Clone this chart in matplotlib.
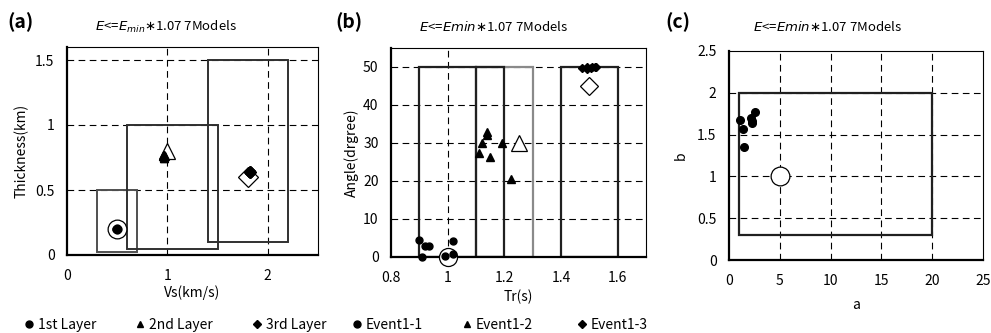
import matplotlib
matplotlib.use("Agg")
import matplotlib.pyplot as plt
from matplotlib.patches import Rectangle
from matplotlib.lines import Line2D

plt.rcParams['font.family'] = ['Noto Sans CJK JP', 'DejaVu Sans']
plt.rcParams['mathtext.fontset'] = 'dejavusans'

# ---------------- data ----------------
# (a) layer Vs / thickness
layer_names = ["1st Layer", "2nd Layer", "3rd Layer"]
vs_min = [0.3, 0.6, 1.4]
vs_max = [0.7, 1.5, 2.2]
th_min = [0.02, 0.05, 0.1]
th_max = [0.5, 1.0, 1.5]
l1_vs = [0.49, 0.50, 0.50, 0.51, 0.50, 0.50, 0.49]
l1_th = [0.20, 0.20, 0.21, 0.20, 0.19, 0.20, 0.20]
l2_vs = [0.96, 0.97, 0.97, 0.98, 0.96, 0.97, 0.97]
l2_th = [0.76, 0.75, 0.77, 0.76, 0.76, 0.75, 0.77]
l3_vs = [1.81, 1.82, 1.82, 1.83, 1.81, 1.82, 1.82]
l3_th = [0.64, 0.63, 0.65, 0.64, 0.64, 0.63, 0.65]
true_vs = [0.5, 1.0, 1.8]
true_th = [0.2, 0.8, 0.6]

# (b) event rise time / angle
event_names = ["Event1-1", "Event1-2", "Event1-3"]
tr_min = [0.9, 1.1, 1.4]
tr_max = [1.2, 1.3, 1.6]
ang_min = [0, 0, 0]
ang_max = [50, 50, 50]
ev1_tr = [0.90, 0.91, 0.92, 0.935, 0.99, 1.02, 1.02]
ev1_ang = [4.6, 0.1, 3.0, 3.0, 0.3, 4.1, 0.9]
ev2_tr = [1.11, 1.12, 1.14, 1.14, 1.15, 1.19, 1.225]
ev2_ang = [27.5, 30.0, 33.0, 32.0, 26.4, 30.0, 20.4]
ev3_tr = [1.475, 1.49, 1.49, 1.505, 1.51, 1.52, 1.525]
ev3_ang = [49.8, 49.5, 49.9, 49.8, 50.0, 49.9, 50.0]
true_tr = [1.0, 1.25, 1.5]
true_ang = [0, 30, 45]

# (c) a / b
a_min, a_max = 1, 20
b_min, b_max = 0.3, 2.0
a_vals = [1.07, 1.34, 1.5, 2.2, 2.25, 2.3, 2.57]
b_vals = [1.676, 1.57, 1.35, 1.70, 1.64, 1.66, 1.77]
true_a = [5]
true_b = [1.0]

# ---------------- figure ----------------
W, H = 991, 333
fig = plt.figure(figsize=(W / 100, H / 100), dpi=100)

def ax_at(l, t, r, b):
    return fig.add_axes([l / W, 1 - b / H, (r - l) / W, (b - t) / H])

axA = ax_at(67, 47, 318, 255)
axB = ax_at(391, 48, 646, 257)
axC = ax_at(729, 51, 983, 260)

FS = 10
grid_kw = dict(color='black', lw=0.8, ls=(0, (6, 4)), zorder=1)

def style(ax, xlim, ylim, xticks, yticks, xticklabels, yticklabels, xgrid, ygrid):
    ax.set_xlim(*xlim)
    ax.set_ylim(*ylim)
    ax.set_xticks(xticks)
    ax.set_yticks(yticks)
    ax.set_xticklabels(xticklabels)
    ax.set_yticklabels(yticklabels)
    ax.tick_params(axis='both', length=0, labelsize=FS)
    ax.tick_params(axis='x', pad=10)
    ax.tick_params(axis='y', pad=9)
    for g in xgrid:
        ax.plot([g, g], list(ylim), **grid_kw)
    for g in ygrid:
        ax.plot(list(xlim), [g, g], **grid_kw)
    for s in ['left', 'bottom']:
        ax.spines[s].set_linewidth(1.6)
    for s in ['top', 'right']:
        ax.spines[s].set_linewidth(0.8)
    ax.set_facecolor('white')

def place_labels(ax, xl, yl, xlab_frac, ylab_frac):
    ax.set_xlabel(xl, fontsize=FS)
    ax.set_ylabel(yl, fontsize=FS)
    ax.xaxis.set_label_coords(0.5, xlab_frac)
    ax.yaxis.set_label_coords(ylab_frac, 0.5)
    ax.xaxis.label.set_va('center')
    ax.yaxis.label.set_va('center')

# ---- (a)
style(axA, (0, 2.5), (0, 1.6), [0, 1, 2], [0, 0.5, 1, 1.5],
      ['0', '1', '2'], ['0', '0.5', '1', '1.5'], [1, 2], [0.5, 1, 1.5])
box_cols_a = ['#505050', '#303030', '#303030']
for i in range(3):
    axA.add_patch(Rectangle((vs_min[i], th_min[i]), vs_max[i] - vs_min[i],
                            th_max[i] - th_min[i], fill=False,
                            ec=box_cols_a[i], lw=1.4, zorder=2))
axA.plot(true_vs[0], true_th[0], 'o', ms=13.5, mfc='white', mec='black', mew=0.9, zorder=3)
axA.plot(true_vs[1], true_th[1], '^', ms=11, mfc='white', mec='black', mew=0.9, zorder=3)
axA.plot(true_vs[2], true_th[2], 'D', ms=10.5, mfc='white', mec='black', mew=0.9, zorder=3)
axA.plot(l1_vs, l1_th, 'o', ms=5, color='black', ls='none', zorder=4)
axA.plot(l2_vs, l2_th, '^', ms=6, color='black', ls='none', zorder=4)
axA.plot(l3_vs, l3_th, 'D', ms=5, color='black', ls='none', zorder=4)
place_labels(axA, 'Vs(km/s)', 'Thickness(km)', (255 - 293) / 208, (22 - 67) / 251)

# ---- (b)
style(axB, (0.8, 1.7), (0, 55), [0.8, 1.0, 1.2, 1.4, 1.6], [0, 10, 20, 30, 40, 50],
      ['0.8', '1', '1.2', '1.4', '1.6'], ['0', '10', '20', '30', '40', '50'],
      [1.0], [10, 20, 30, 40, 50])
box_cols_b = ['#202020', '#8a8a8a', '#202020']
order_b = [1, 0, 2]
for i in order_b:
    axB.add_patch(Rectangle((tr_min[i], ang_min[i]), tr_max[i] - tr_min[i],
                            ang_max[i] - ang_min[i], fill=False,
                            ec=box_cols_b[i], lw=1.6, zorder=2))
axB.plot([tr_min[1], tr_min[1]], [ang_min[1], ang_max[1]], color='#202020', lw=1.6, zorder=2)
axB.plot(true_tr[0], true_ang[0], 'o', ms=13, mfc='white', mec='black', mew=0.9, zorder=3, clip_on=False)
axB.plot(true_tr[1], true_ang[1], '^', ms=12, mfc='white', mec='black', mew=0.9, zorder=3)
axB.plot(true_tr[2], true_ang[2], 'D', ms=9.5, mfc='white', mec='black', mew=0.9, zorder=3)
axB.plot(ev1_tr, ev1_ang, 'o', ms=5, color='black', ls='none', zorder=4, clip_on=False)
axB.plot(ev2_tr, ev2_ang, '^', ms=5.5, color='black', ls='none', zorder=4)
axB.plot(ev3_tr, ev3_ang, 'D', ms=4.5, color='black', ls='none', zorder=4)
place_labels(axB, 'Tr(s)', 'Angle(drgree)', (257 - 297) / 209, (352 - 391) / 255)

# ---- (c)
style(axC, (0, 25), (0, 2.5), [0, 5, 10, 15, 20, 25], [0, 0.5, 1, 1.5, 2, 2.5],
      ['0', '5', '10', '15', '20', '25'], ['0', '0.5', '1', '1.5', '2', '2.5'],
      [5, 10, 15, 20], [0.5, 1, 1.5, 2])
axC.add_patch(Rectangle((a_min, b_min), a_max - a_min, b_max - b_min, fill=False,
                        ec='#202020', lw=1.6, zorder=2))
axC.plot(true_a, true_b, 'o', ms=13.5, mfc='white', mec='black', mew=0.9, zorder=3)
axC.plot(a_vals, b_vals, 'o', ms=5.5, color='black', ls='none', zorder=4)
place_labels(axC, 'a', 'b', (260 - 305) / 209, (681 - 729) / 254)

# ---- titles and panel labels
fig.text(166 / W, 1 - 27 / H, r'$E$<=$E_{min}$$\ast$1.07 7Models', fontsize=9.5,
         ha='center', va='center')
fig.text(494 / W, 1 - 27 / H, r'$E$<=$Emin$$\ast$1.07 7Models', fontsize=9.5,
         ha='center', va='center')
fig.text(828 / W, 1 - 27 / H, r'$E$<=$Emin$$\ast$1.07 7Models', fontsize=9.5,
         ha='center', va='center')
for lab, x in [('(a)', 7), ('(b)', 335), ('(c)', 665)]:
    fig.text(x / W, 1 - 22 / H, lab, fontsize=14, fontweight='bold',
             ha='left', va='center')

# ---- legend entries at the bottom
legend_items = [
    (layer_names[0], 'o', 29), (layer_names[1], '^', 140), (layer_names[2], 'D', 257),
    (event_names[0], 'o', 357), (event_names[1], '^', 467), (event_names[2], 'D', 582),
]
for name, mk, xm in legend_items:
    ms = 5 if mk != 'D' else 4.5
    h = Line2D([], [], marker=mk, color='black', ls='none', ms=ms)
    hl = 0.7
    fs = FS
    left_px = xm - hl * fs / 72 * 100 / 2
    fig.legend(handles=[h], labels=[name], loc='center left',
               bbox_to_anchor=(left_px / W, 1 - 325 / H), frameon=False,
               fontsize=fs, handlelength=hl, handletextpad=0.3,
               borderpad=0, borderaxespad=0)

fig.savefig('out.png', dpi=100)
